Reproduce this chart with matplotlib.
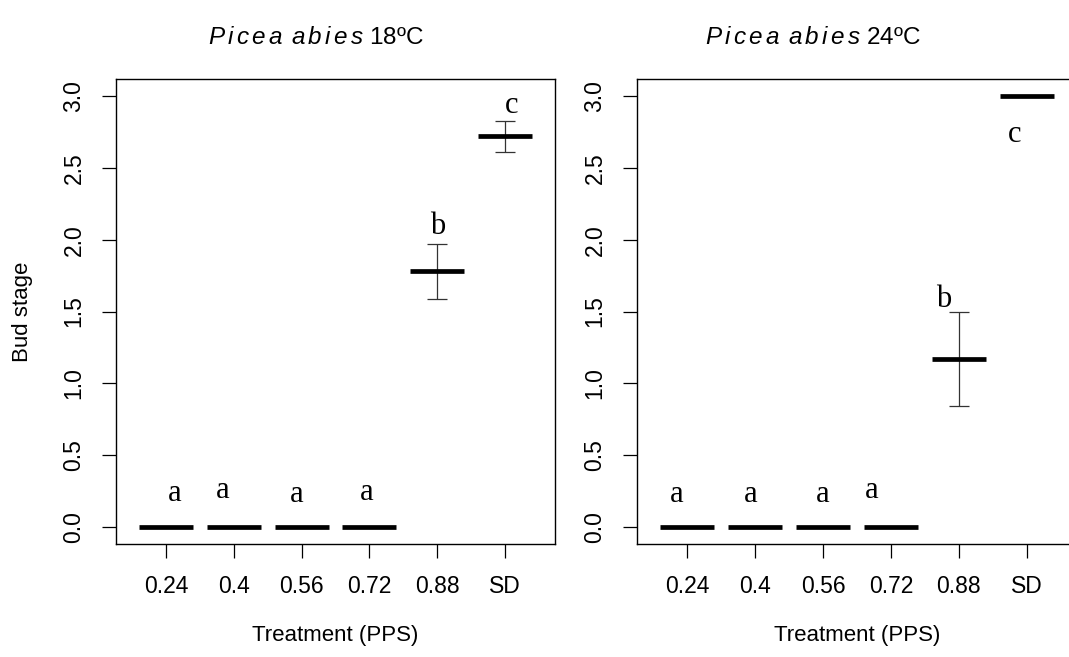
import matplotlib
matplotlib.use('Agg')
import matplotlib.pyplot as plt

plt.rcParams['font.family'] = ['Liberation Sans', 'DejaVu Sans']
plt.rcParams['mathtext.fontset'] = 'custom'
plt.rcParams['mathtext.rm'] = 'Liberation Sans'
plt.rcParams['mathtext.it'] = 'Liberation Sans:italic'

# data
treatments = ['0.24', '0.4', '0.56', '0.72', '0.88', 'SD']
mean_18 = [0, 0, 0, 0, 1.78, 2.72]
se_18 = [0, 0, 0, 0, 0.19, 0.11]
mean_24 = [0, 0, 0, 0, 1.17, 3.0]
se_24 = [0, 0, 0, 0, 0.33, 0]
letters = ['a', 'a', 'a', 'a', 'b', 'c']
# letter positions (x in group units, y baseline in bud stage units)
letx_18 = [1.12, 1.83, 2.92, 3.96, 5.01, 6.10]
lety_18 = [0.18, 0.20, 0.17, 0.19, 2.04, 2.88]
letx_24 = [0.85, 1.94, 3.00, 3.71, 4.78, 5.82]
lety_24 = [0.17, 0.17, 0.17, 0.20, 1.53, 2.68]

W, H = 1069, 657
fig = plt.figure(figsize=(W / 100, H / 100), dpi=100)
fig.patch.set_facecolor('white')


def panel(rect, means, ses, lx, ly, ylabel):
    ax = fig.add_axes(rect)
    x = list(range(1, len(treatments) + 1))
    ax.hlines(means, [v - 0.4 for v in x], [v + 0.4 for v in x],
              color='black', linewidth=3.4, zorder=3)
    ax.errorbar(x, means, yerr=ses, fmt='none', ecolor='#333333',
                elinewidth=0.9, capsize=7, capthick=0.9, zorder=2)
    for i, s in enumerate(letters):
        ax.text(lx[i], ly[i], s, fontsize=22, family='Liberation Serif',
                ha='center', va='baseline')
    ax.set_xlim(0.26, 6.74)
    ax.set_ylim(-0.12, 3.12)
    ax.set_xticks(x)
    ax.set_xticklabels(treatments)
    ax.set_yticks([0, 0.5, 1.0, 1.5, 2.0, 2.5, 3.0])
    ax.set_yticklabels(['0.0', '0.5', '1.0', '1.5', '2.0', '2.5', '3.0'],
                       rotation=90, va='center')
    ax.tick_params(axis='both', length=10, width=0.9, labelsize=16.5,
                   direction='out', color='black')
    ax.tick_params(axis='x', pad=12)
    ax.tick_params(axis='y', pad=12)
    for sp in ax.spines.values():
        sp.set_linewidth(1.0)
        sp.set_color('black')
    ax.set_xlabel('Treatment (PPS)', fontsize=16, labelpad=20)
    if ylabel:
        ax.set_ylabel(ylabel, fontsize=16, labelpad=21)
    return ax


ax1 = panel([116 / W, 113 / H, 439 / W, 465 / H], mean_18, se_18,
            letx_18, lety_18, 'Bud stage')
ax2 = panel([637 / W, 113 / H, 440 / W, 465 / H], mean_24, se_24,
            letx_24, lety_24, None)
# right edge of the second box falls outside the picture
ax2.spines['right'].set_visible(False)

fig.text(316 / W, 1 - 38 / H, r'$\mathit{P\,i\,c\,e\,a\;\,a\,b\,i\,e\,s}$ 18ºC',
         fontsize=17.5, ha='center', va='center')
fig.text(813 / W, 1 - 38 / H, r'$\mathit{P\,i\,c\,e\,a\;\,a\,b\,i\,e\,s}$ 24ºC',
         fontsize=17.5, ha='center', va='center')

fig.savefig('out.png', dpi=100, facecolor='white')
